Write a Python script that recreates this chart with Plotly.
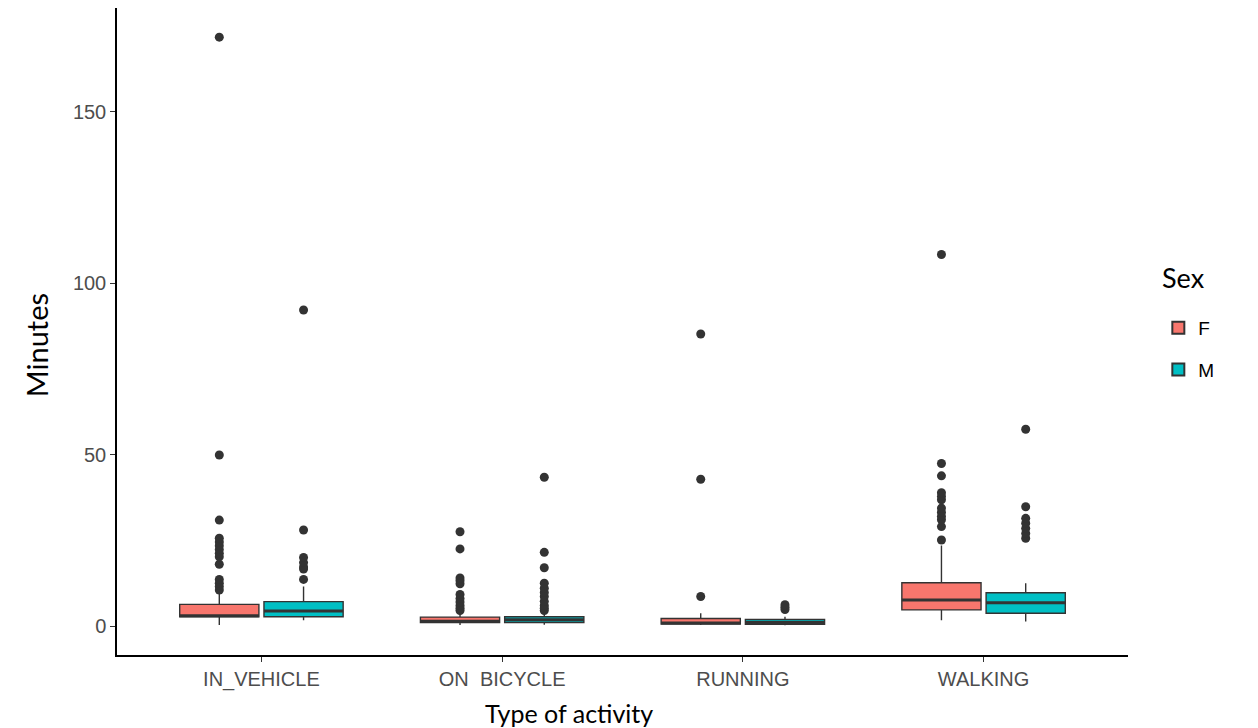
import plotly.graph_objects as go

categories = ["IN_VEHICLE", "ON\u00a0\u00a0BICYCLE", "RUNNING", "WALKING"]
sexes = ["F", "M"]

# Box statistics (minutes)
f_q1 = [2.7, 1.0, 0.6, 4.7]
f_median = [3.0, 1.4, 0.9, 7.6]
f_q3 = [6.3, 2.6, 2.2, 12.6]
f_lower = [0.3, 0.3, 0.3, 1.7]
f_upper = [9.6, 3.8, 3.7, 23.5]

m_q1 = [2.7, 1.0, 0.5, 3.7]
m_median = [4.4, 1.8, 1.0, 6.8]
m_q3 = [7.1, 2.7, 1.9, 9.7]
m_lower = [1.7, 0.4, 0.2, 1.3]
m_upper = [11.5, 4.0, 2.7, 12.5]

# Outliers per category
f_out_in_vehicle = [171.8, 49.9, 30.9, 25.6, 24.5, 23.4, 22.3, 21.2, 20.2, 18.0, 13.6, 12.5, 11.5, 10.5]
f_out_on_bicycle = [27.5, 22.5, 14.0, 13.2, 12.3, 9.2, 8.0, 7.0, 6.0, 5.2, 4.5]
f_out_running = [85.2, 42.8, 8.6]
f_out_walking = [108.4, 47.4, 43.8, 38.9, 37.8, 36.8, 34.4, 33.2, 32.0, 31.0, 29.0, 25.1]

m_out_in_vehicle = [92.2, 28.0, 20.0, 18.5, 17.2, 16.6, 13.6]
m_out_on_bicycle = [43.4, 21.5, 17.0, 12.5, 11.0, 9.8, 8.6, 7.2, 6.0, 5.2, 4.5]
m_out_running = [6.2, 5.5, 4.8]
m_out_walking = [57.4, 34.8, 31.4, 30.0, 28.5, 27.0, 25.6]

y_ticks = [0, 50, 100, 150]

colors = {"F": "#F8766D", "M": "#00BFC4"}
line_col = "#333333"

stats = {
    "F": (f_q1, f_median, f_q3, f_lower, f_upper),
    "M": (m_q1, m_median, m_q3, m_lower, m_upper),
}
outliers = {
    "F": [f_out_in_vehicle, f_out_on_bicycle, f_out_running, f_out_walking],
    "M": [m_out_in_vehicle, m_out_on_bicycle, m_out_running, m_out_walking],
}

fig = go.Figure()
for s in sexes:
    q1, med, q3, lo, up = stats[s]
    fig.add_trace(go.Box(
        x=categories, q1=q1, median=med, q3=q3, lowerfence=lo, upperfence=up,
        name=s, offsetgroup=s, legendgroup=s,
        fillcolor=colors[s], line=dict(color=line_col, width=1.4),
        boxpoints=False, whiskerwidth=0, showlegend=True,
    ))
# thick median bars (ggplot fatten)
for s in sexes:
    q1, med, q3, lo, up = stats[s]
    fig.add_trace(go.Box(
        x=categories, q1=med, median=med, q3=med, lowerfence=med, upperfence=med,
        name=s, offsetgroup=s, legendgroup=s, showlegend=False,
        fillcolor="rgba(0,0,0,0)", line=dict(color=line_col, width=3),
        boxpoints=False, whiskerwidth=0, hoverinfo="skip",
    ))
for s in sexes:
    xs, ys = [], []
    for cat, vals in zip(categories, outliers[s]):
        xs += [cat] * len(vals)
        ys += vals
    fig.add_trace(go.Box(
        x=xs, y=ys, name=s, offsetgroup=s, legendgroup=s, showlegend=False,
        boxpoints="all", jitter=0, pointpos=0,
        fillcolor="rgba(0,0,0,0)", line=dict(color="rgba(0,0,0,0)", width=0),
        marker=dict(color=line_col, size=9, line=dict(width=0)),
        whiskerwidth=0,
    ))

title_font = "Lato, Open Sans, sans-serif"
fig.update_layout(
    width=1258, height=728,
    margin=dict(l=117, r=130, t=8, b=73),
    paper_bgcolor="white", plot_bgcolor="white",
    boxmode="group", boxgap=0.3, boxgroupgap=0.06,
    font=dict(family="Liberation Sans, Arial, sans-serif", color="#4d4d4d"),
    showlegend=True,
    legend=dict(
        x=1.03, y=0.535, xanchor="left", yanchor="top",
        font=dict(family="Liberation Sans, Arial, sans-serif", size=19, color="black"),
        tracegroupgap=14, itemsizing="constant",
    ),
    annotations=[
        dict(text="Sex", xref="paper", yref="paper", x=1.0317, y=0.584,
             xanchor="left", yanchor="middle", showarrow=False,
             font=dict(family=title_font, size=27, color="black")),
        dict(text="Type of activity", xref="paper", yref="paper", x=0.447, y=-0.0896,
             xanchor="center", yanchor="middle", showarrow=False,
             font=dict(family=title_font, size=25, color="black")),
        dict(text="Minutes", xref="paper", yref="paper", x=-0.080, y=0.479,
             xanchor="center", yanchor="middle", showarrow=False, textangle=-90,
             font=dict(family=title_font, size=29, color="black")),
    ],
    xaxis=dict(
        type="category", categoryorder="array", categoryarray=categories,
        showline=True, linecolor="black", linewidth=1.5, mirror=False,
        ticks="outside", ticklen=5, tickcolor="#333333", tickwidth=1,
        tickfont=dict(size=20, color="#4d4d4d"),
        showgrid=False, zeroline=False, range=[-0.6, 3.6],
    ),
    yaxis=dict(
        range=[-8.46, 180.3], tickvals=y_ticks,
        showline=True, linecolor="black", linewidth=1.5,
        ticks="outside", ticklen=5, tickcolor="#333333", tickwidth=1,
        tickfont=dict(size=20, color="#4d4d4d"),
        showgrid=False, zeroline=False,
    ),
)

fig.write_html("out.html")
